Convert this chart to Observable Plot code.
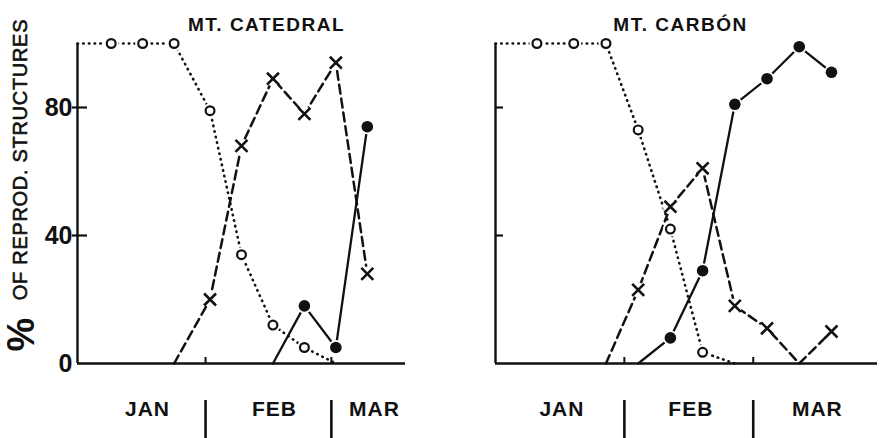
<!DOCTYPE html>
<html>
<head>
<meta charset="utf-8">
<script src="https://cdn.jsdelivr.net/npm/d3@7"></script>
<script src="https://cdn.jsdelivr.net/npm/@observablehq/plot@0.6"></script>
<style>
  html, body { margin: 0; padding: 0; background: #fff; }
  #chart { display: flex; width: 881px; height: 438px; }
  #chart svg { display: block; overflow: visible; }
</style>
</head>
<body>
<div id="chart"></div>
<script>
// Sampling dates, counted in days from 1 January
const catedralDays   = [10, 17, 24, 32, 39, 46, 53, 60, 67];
const catedralOpen   = [100, 100, 100, 79, 34, 12, 5, 0, null];      // open circles, dotted
const catedralCross  = [null, null, 0, 20, 68, 89, 78, 94, 28];      // crosses, dashed
const catedralFilled = [null, null, null, null, null, 0, 18, 5, 74]; // filled circles, solid

const carbonDays   = [12, 20, 27, 34, 41, 48, 55, 62, 69, 76];
const carbonOpen   = [100, 100, 100, 73, 42, 3.5, 0, null, null, null];
const carbonCross  = [null, null, 0, 23, 49, 61, 18, 11, 0, 10];
const carbonFilled = [null, null, null, 0, 8, 29, 81, 89, 99, 91];

const monthNames  = ["JAN", "FEB", "MAR"];
const monthStarts = [31, 59];   // 1 Feb, 1 Mar
const yTickValues = [0, 40, 80];

const ink = "#111";
const H = 438, MT = 43, MB = 75;

function panel({title, days, open, cross, filled, width, marginLeft, marginRight,
                xDomain, titleDx, monthDx, innerTick, withYLabels}) {
  const rows = vals => days.map((d, i) => ({day: d, value: vals[i]})).filter(r => r.value != null);
  const openRows = rows(open), crossRows = rows(cross), filledRows = rows(filled);
  // the dotted series runs in from the axis at its first reading
  const openLine = [{day: xDomain[0], value: openRows[0].value}, ...openRows];
  const marked = rs => rs.filter(r => r.value > 0);
  const plotW = width - marginLeft - marginRight;
  const plotH = H - MT - MB;
  const bounds = [xDomain[0], ...monthStarts, xDomain[1]];
  const monthLabels = monthNames.map((name, i) => ({name, day: (bounds[i] + bounds[i + 1]) / 2}));
  const xy = {x: "day", y: "value"};

  const marks = [
    Plot.ruleY([0], {stroke: ink, strokeWidth: 2.4}),
    Plot.ruleX([xDomain[0]], {stroke: ink, strokeWidth: 2.4}),
    Plot.tickY(yTickValues.filter(v => v > 0), {
      y: d => d, stroke: ink, strokeWidth: 2.2,
      insetRight: plotW - (innerTick ? 8 : 15), dx: innerTick ? 0 : -5
    }),
    Plot.tickX(monthStarts, {x: d => d, stroke: ink, strokeWidth: 2, insetTop: plotH - 6}),
    Plot.tickX(monthStarts, {x: d => d, stroke: ink, strokeWidth: 2.6, insetTop: plotH - 38, dy: 75}),
    Plot.text(monthLabels, {
      x: "day", text: "name", frameAnchor: "bottom", dy: 52, dx: monthDx,
      fontSize: 21, fontWeight: "bold", fill: ink
    }),
    Plot.text([title], {
      frameAnchor: "top", dy: -26, dx: titleDx, fontSize: 19, fontWeight: "bold", fill: ink
    }),
    Plot.line(openLine, {...xy, stroke: ink, strokeWidth: 2.6, strokeDasharray: "0.5,5.2", strokeLinecap: "round"}),
    Plot.line(crossRows, {...xy, stroke: ink, strokeWidth: 2.5, strokeDasharray: "9,5"}),
    Plot.line(filledRows, {...xy, stroke: ink, strokeWidth: 2.3}),
    Plot.dot([...marked(openRows), ...marked(crossRows), ...marked(filledRows)], {...xy, r: 7.5, fill: "white"}),
    Plot.dot(marked(openRows), {...xy, r: 4.4, stroke: ink, strokeWidth: 2.2, fill: "white"}),
    Plot.dot(marked(crossRows), {...xy, symbol: "times", r: 5.5, stroke: ink, strokeWidth: 2.6}),
    Plot.dot(marked(filledRows), {...xy, r: 5.8, fill: ink})
  ];

  if (withYLabels) {
    marks.push(
      Plot.text(yTickValues, {
        y: d => d, text: d => String(d), frameAnchor: "left", textAnchor: "end",
        dx: -5, fontSize: 25, fontWeight: "bold", fill: ink
      }),
      Plot.text(["OF REPROD. STRUCTURES"], {
        frameAnchor: "left", textAnchor: "middle", rotate: -90, dx: -57, dy: -44,
        fontSize: 20, fill: ink, stroke: ink, strokeWidth: 0.6
      }),
      Plot.text(["%"], {
        frameAnchor: "left", textAnchor: "middle", rotate: -90, dx: -56, dy: 131,
        fontSize: 38, fontWeight: "bold", fill: ink
      })
    );
  }

  const svg = Plot.plot({
    width, height: H,
    marginLeft, marginRight, marginTop: MT, marginBottom: MB,
    x: {domain: xDomain, axis: null},
    y: {domain: [0, 100], axis: null},
    style: {
      fontFamily: "'Liberation Sans', Arial, Helvetica, sans-serif",
      background: "white", color: ink, overflow: "visible"
    },
    marks
  });
  const spacing = {[title]: "1.5px", "OF REPROD. STRUCTURES": "0.7px", JAN: "1px", FEB: "1px", MAR: "1px"};
  d3.select(svg).selectAll("text")
    .filter(function () { return this.textContent in spacing; })
    .style("letter-spacing", function () { return spacing[this.textContent]; });
  return svg;
}

const chart = document.getElementById("chart");
chart.append(panel({
  title: "MT. CATEDRAL", days: catedralDays,
  open: catedralOpen, cross: catedralCross, filled: catedralFilled,
  width: 440, marginLeft: 77, marginRight: 35, xDomain: [2.5, 75.5],
  titleDx: 25, monthDx: 6, innerTick: false, withYLabels: true
}));
chart.append(panel({
  title: "MT. CARBÓN", days: carbonDays,
  open: carbonOpen, cross: carbonCross, filled: carbonFilled,
  width: 441, marginLeft: 55, marginRight: 4, xDomain: [3, 86],
  titleDx: -6, monthDx: 2, innerTick: true, withYLabels: false
}));
</script>
</body>
</html>
